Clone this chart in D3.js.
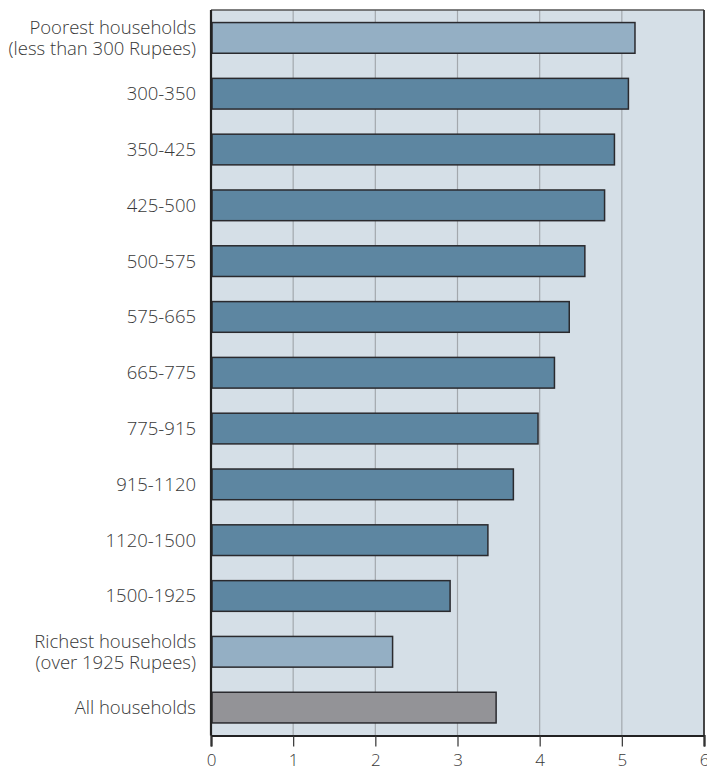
<!DOCTYPE html>
<html>
<head>
<meta charset="utf-8">
<script src="https://cdn.jsdelivr.net/npm/d3@7"></script>
<style>
  html, body { margin: 0; padding: 0; background: #fff; }
  svg { display: block; }
  text { font-family: "Open Sans", "Liberation Sans", sans-serif; font-weight: 300; fill: #383838; }
</style>
</head>
<body>
<svg id="chart" width="707" height="771"></svg>
<script>
const categories = [
  ["Poorest households", "(less than 300 Rupees)"],
  ["300-350"], ["350-425"], ["425-500"], ["500-575"], ["575-665"],
  ["665-775"], ["775-915"], ["915-1120"], ["1120-1500"], ["1500-1925"],
  ["Richest households", "(over 1925 Rupees)"],
  ["All households"]
];
const values = [5.16, 5.08, 4.91, 4.79, 4.55, 4.36, 4.18, 3.98, 3.68, 3.37, 2.91, 2.21, 3.47];
const barType = ["light", "dark", "dark", "dark", "dark", "dark", "dark", "dark", "dark", "dark", "dark", "light", "grey"];
const xTicks = [0, 1, 2, 3, 4, 5, 6];

const colors = { light: "#94afc4", dark: "#5d86a1", grey: "#939397" };

const svg = d3.select("#chart");
const margin = { left: 211, right: 3, top: 10, bottom: 35.5 };
const W = 707, H = 771;

const x = d3.scaleLinear().domain([0, 6]).range([margin.left, W - margin.right]);
const y = d3.scaleBand().domain(d3.range(categories.length))
  .range([margin.top, H - margin.bottom]).paddingInner(0.45).paddingOuter(0.225);

// background
svg.append("rect")
  .attr("x", x(0)).attr("y", margin.top)
  .attr("width", x(6) - x(0)).attr("height", H - margin.bottom - margin.top)
  .attr("fill", "#d5dfe7");

// grid lines
svg.append("g").selectAll("line").data(xTicks.slice(1, -1)).join("line")
  .attr("x1", d => x(d)).attr("x2", d => x(d))
  .attr("y1", margin.top).attr("y2", H - margin.bottom)
  .attr("stroke", "#a3a8ad").attr("stroke-width", 1.2);

// bars
svg.append("g").selectAll("rect").data(values).join("rect")
  .attr("x", x(0) + 1)
  .attr("y", (d, i) => y(i))
  .attr("width", d => x(d) - x(0) - 1)
  .attr("height", y.bandwidth())
  .attr("fill", (d, i) => colors[barType[i]])
  .attr("stroke", "#2a2a2e").attr("stroke-width", 1.5);

// border
svg.append("line").attr("x1", x(0)).attr("x2", x(6))
  .attr("y1", margin.top).attr("y2", margin.top)
  .attr("stroke", "#555").attr("stroke-width", 1.5);
svg.append("line").attr("x1", x(6)).attr("x2", x(6))
  .attr("y1", margin.top).attr("y2", H - margin.bottom)
  .attr("stroke", "#333").attr("stroke-width", 1.8);
svg.append("line").attr("x1", x(0)).attr("x2", x(0))
  .attr("y1", margin.top).attr("y2", H - margin.bottom)
  .attr("stroke", "#222").attr("stroke-width", 2.2);

// x axis
const xAxis = d3.axisBottom(x).tickValues(xTicks).tickSize(11).tickPadding(7).tickFormat(d3.format("d"));
const gx = svg.append("g").attr("transform", `translate(0,${H - margin.bottom})`).call(xAxis);
gx.select(".domain").attr("stroke", "#222").attr("stroke-width", 2.2);
gx.selectAll(".tick line").attr("stroke", "#333").attr("stroke-width", 1.2);
gx.selectAll(".tick text").attr("font-size", 17).attr("fill", "#383838")
  .attr("font-family", "Open Sans, Liberation Sans, sans-serif").attr("font-weight", 300);

// category labels
const lbl = svg.append("g").selectAll("text").data(categories).join("text")
  .attr("text-anchor", "end")
  .attr("x", 196)
  .attr("y", (d, i) => y(i) + y.bandwidth() / 2)
  .attr("font-size", 18.5);
lbl.each(function (d) {
  const t = d3.select(this);
  const n = d.length;
  d.forEach((line, k) => {
    t.append("tspan").attr("x", 196)
      .attr("dy", k === 0 ? `${(-(n - 1) * 1.12 / 2 + 0.35).toFixed(2)}em` : "1.12em")
      .text(line);
  });
});
</script>
</body>
</html>
